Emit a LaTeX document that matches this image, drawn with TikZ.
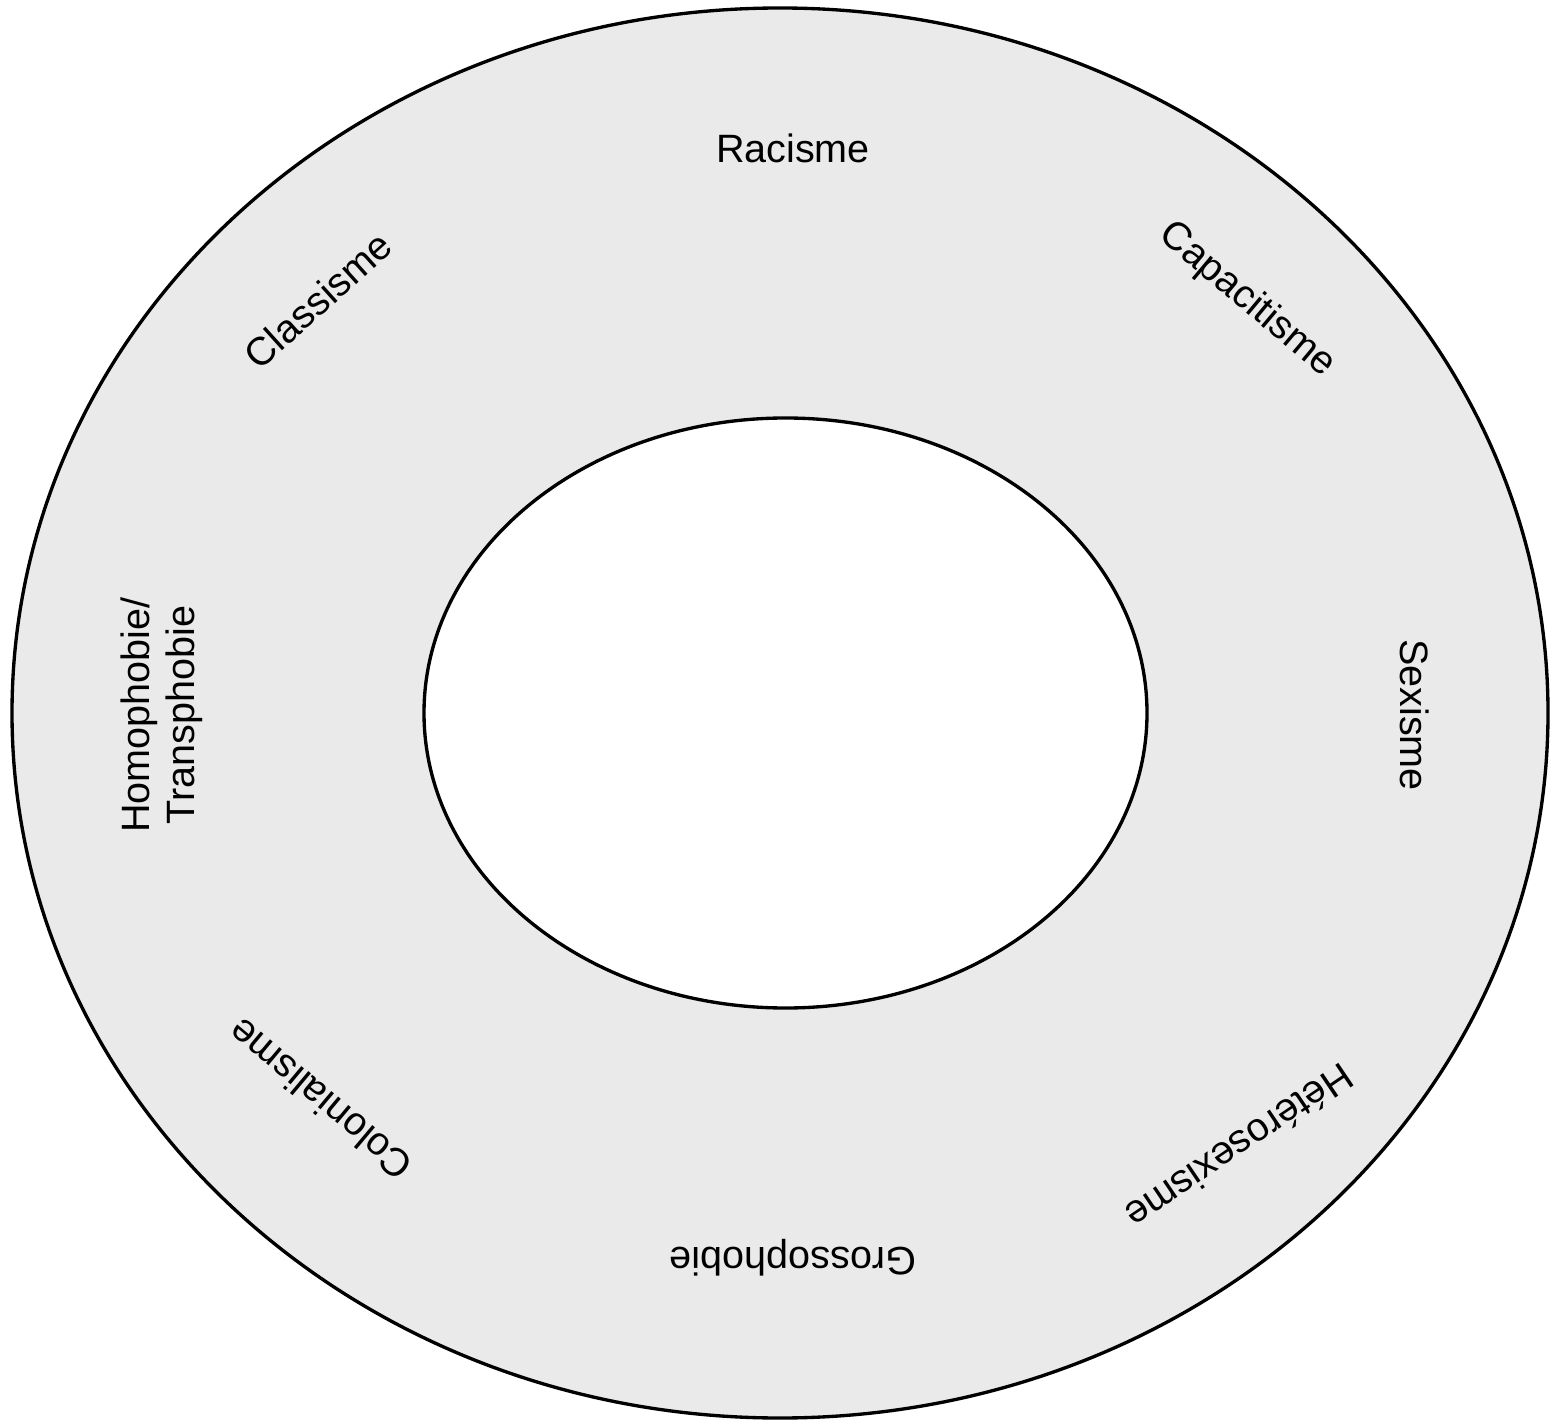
\documentclass[tikz,border=0pt]{standalone}
\usepackage{fontspec}
\setmainfont{Liberation Sans}
\definecolor{ringgray}{RGB}{233,234,233}

\begin{document}
\begin{tikzpicture}[x=0.02cm, y=0.02cm,
    ring/.style = {draw=black, line width=1.9pt},
    lbl/.style = {font=\fontsize{22.5}{25.6}\selectfont, align=center, inner sep=0pt}]
\useasboundingbox (0,0) rectangle (1550,1421);
\begin{scope}[name prefix = ring-]
    \coordinate (outer) at (780,708);
    \coordinate (inner) at (785.5,708);
    \draw[ring, fill=ringgray] (outer) ellipse [x radius=768, y radius=705];
    \draw[ring, fill=white] (inner) ellipse [x radius=361.5, y radius=295];
\end{scope}
\begin{scope}[name prefix = lbl-]
    \node[lbl] (racisme) at (793,1273) {Racisme};
    \node[lbl, rotate=-40] (capacitisme) at (1247,1121) {Capacitisme};
    \node[lbl, rotate=-90] (sexisme) at (1415,706) {Sexisme};
    \node[lbl, rotate=214] (heterosexisme) at (1240,274) {Hétérosexisme};
    \node[lbl, rotate=180] (grossophobie) at (793,163) {Grossophobie};
    \node[lbl, rotate=140] (colonialisme) at (320,321) {Colonialisme};
    \node[lbl, rotate=90] (homophobie) at (162,706) {Homophobie/\\Transphobie};
    \node[lbl, rotate=42] (classisme) at (318,1121) {Classisme};
\end{scope}

\end{tikzpicture}
\end{document}
